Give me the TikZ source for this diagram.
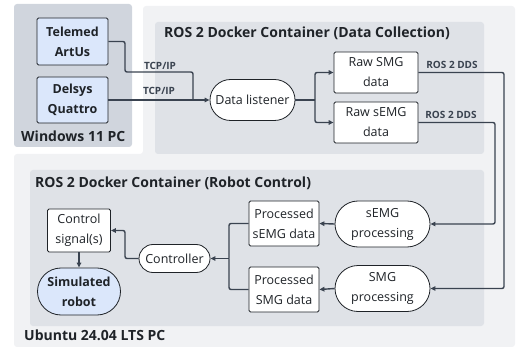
\documentclass[tikz,border=0pt]{standalone}
\usepackage{fontspec}
\setmainfont{Open Sans}
\usetikzlibrary{arrows.meta,shapes.misc}

\definecolor{linecol}{HTML}{3A4350}
\definecolor{textcol}{HTML}{1F2328}
\definecolor{winfill}{HTML}{D0D5DD}
\definecolor{pcfill}{HTML}{F1F2F4}
\definecolor{boxfill}{HTML}{DFE2E7}
\definecolor{devfill}{HTML}{DBE7FB}

\tikzset{
  every node/.style={text=textcol, inner sep=0pt},
  databox/.style={draw=textcol, fill=white, rounded corners=1.5pt, line width=0.8pt,
    align=center, font=\fontsize{12.5}{20}\selectfont},
  procnode/.style={draw=textcol, fill=white, rounded rectangle, line width=0.8pt,
    align=center, font=\fontsize{12.5}{20}\selectfont},
  devbox/.style={databox, fill=devfill, font=\fontsize{12.5}{20}\selectfont\bfseries},
  title/.style={anchor=west, font=\fontsize{14}{16}\selectfont\bfseries},
  linklabel/.style={font=\fontsize{10}{12}\selectfont\bfseries, text=linecol},
  link/.style={draw=linecol, line width=1.4pt, rounded corners=2pt,
    -{Triangle[length=5pt,width=4.5pt]}},
  plainlink/.style={draw=linecol, line width=1.4pt, rounded corners=2pt}
}

\begin{document}
\begin{tikzpicture}[x=1pt, y=-1pt]
  \useasboundingbox (0,0) rectangle (524,347);

  % BACKGROUNDS
  \fill[pcfill, rounded corners=3pt] (143,6) -- (515,6) -- (515,347) -- (14,347)
    -- (14,154) -- (143,154) -- cycle;
  \fill[winfill, rounded corners=3pt] (14,4) rectangle (132,147);
  \fill[boxfill, rounded corners=3pt] (155,22) rectangle (484,154);
  \fill[boxfill, rounded corners=3pt] (30,170) rectangle (484,326);

  \node[title] (tcoll) at (164,33) {ROS 2 Docker Container (Data Collection)};
  \node[title] (tctrl) at (35,183) {ROS 2 Docker Container (Robot Control)};
  \node[title] (twin) at (21,136) {Windows 11 PC};
  \node[title] (tpc) at (24,335) {Ubuntu 24.04 LTS PC};

  % NODES
  \node[devbox, minimum width=71pt, minimum height=47pt] (telemed) at (72.5,41.5) {Telemed\\ArtUs};
  \node[devbox, minimum width=71pt, minimum height=46pt] (delsys) at (72.5,100) {Delsys\\Quattro};
  \node[procnode, minimum width=85pt, minimum height=41pt] (listener) at (252.5,100) {Data listener};
  \node[databox, minimum width=84pt, minimum height=41pt] (rawsmg) at (376,72.5) {Raw SMG\\data};
  \node[databox, minimum width=84pt, minimum height=41pt] (rawsemg) at (376,122.5) {Raw sEMG\\data};
  \node[procnode, minimum width=95pt, minimum height=46pt] (semgproc) at (382.5,224) {sEMG\\processing};
  \node[procnode, minimum width=95pt, minimum height=46pt] (smgproc) at (382.5,288.5) {SMG\\processing};
  \node[databox, minimum width=70pt, minimum height=45pt] (procsemg) at (284,223.5) {Processed\\sEMG data};
  \node[databox, minimum width=70pt, minimum height=45pt] (procsmg) at (284,289.5) {Processed\\SMG data};
  \node[procnode, minimum width=71pt, minimum height=28pt] (controller) at (174.5,258.5) {Controller};
  \node[databox, minimum width=63pt, minimum height=43pt] (ctrlsig) at (79,230.5) {Control\\signal(s)};
  \node[procnode, fill=devfill, font=\fontsize{12.5}{20}\selectfont\bfseries,
    minimum width=83pt, minimum height=47pt] (robot) at (79,291.5) {Simulated\\robot};

  % DRAW LINKS
  \coordinate (tcpjoin) at (193,100);
  \path[plainlink] (telemed.east) -- (125,41.5) -- (125,72) -- (193,72) -- (tcpjoin);
  \path[link] (delsys.east) -- (listener.west);
  \node[linklabel] (tcpa) at (160,66) {TCP/IP};
  \node[linklabel] (tcpb) at (159,91) {TCP/IP};

  \coordinate (fork) at (315,100);
  \path[plainlink] (listener.east) -- (fork);
  \path[link] (fork) |- (rawsmg.west);
  \path[link] (fork) |- (rawsemg.west);

  \path[link] (rawsmg.east) -- (504,72.5) |- (smgproc.east);
  \path[link] (rawsemg.east) -- (495,122.5) |- (semgproc.east);
  \node[linklabel] (ddsa) at (452,65) {ROS 2 DDS};
  \node[linklabel] (ddsb) at (451,115) {ROS 2 DDS};

  \path[link] (semgproc.west) -- (procsemg.east);
  \path[link] (smgproc.west) -- (procsmg.east);

  \coordinate (join) at (229,258.5);
  \path[plainlink] (procsemg.west) -| (join);
  \path[plainlink] (procsmg.west) -| (join);
  \path[link] (join) -- (controller.east);

  \path[link] (controller.west) -- (125,258.5) |- (ctrlsig.east);
  \path[link] (ctrlsig.south) -- (robot.north);
\end{tikzpicture}
\end{document}
